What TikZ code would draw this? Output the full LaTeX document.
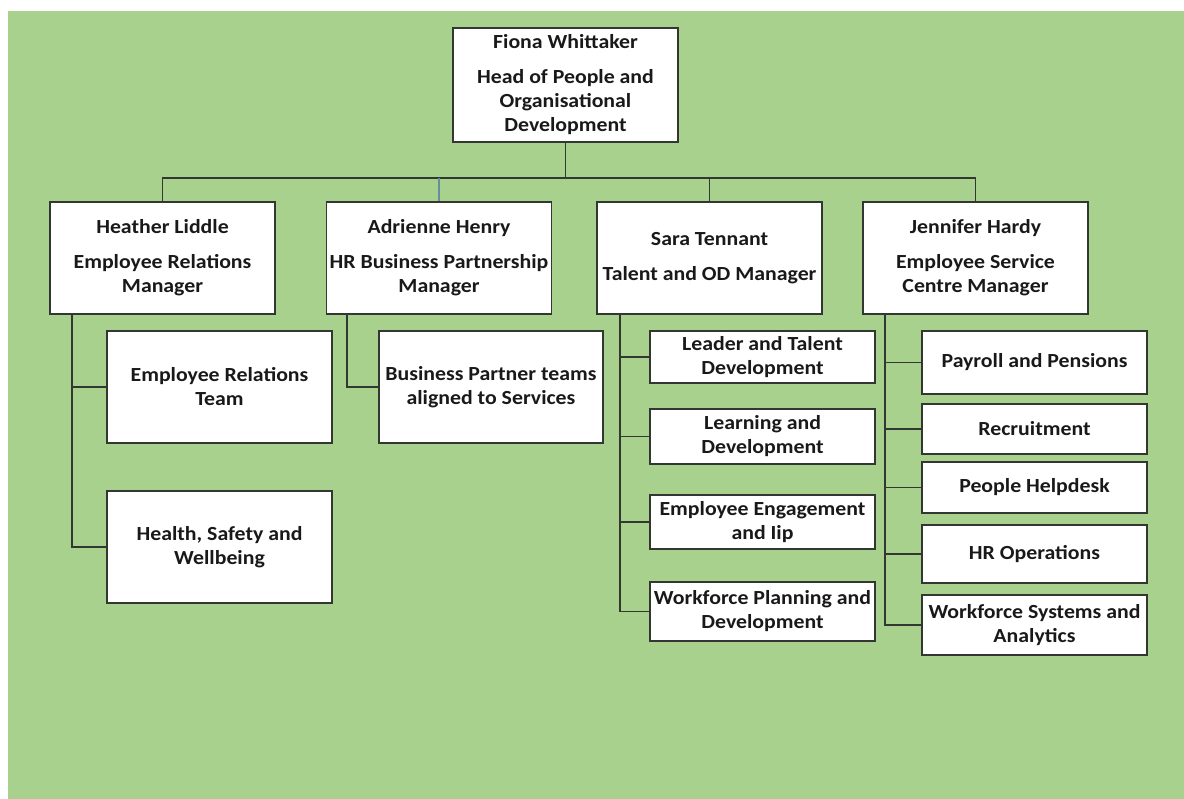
\documentclass[tikz,border=0pt]{standalone}
\usepackage{fontspec}
\setmainfont{Carlito}[FakeStretch=1.09]
\usetikzlibrary{calc}
\definecolor{bg}{RGB}{169,209,142}
\definecolor{ln}{RGB}{50,55,50}
\definecolor{blueln}{RGB}{105,140,160}
\begin{document}
\begin{tikzpicture}[x=1pt,y=-1pt,
  box/.style={draw=ln, line width=1.8pt, fill=white, inner sep=0pt, align=center,
    text=black!90, font=\fontsize{20}{24}\selectfont\bfseries},
  mgr/.style={box, minimum width=225pt, minimum height=112pt},
  conn/.style={draw=ln, line width=1.8pt}]
\useasboundingbox (0,0) rectangle (1184,799);
\fill[bg] (8,11) rectangle (1184,799);

% top
\node[box, minimum width=225pt, minimum height=114pt] (top) at (565.5,85)
  {Fiona Whittaker\\[11pt]Head of People and\\Organisational\\Development};

% managers
\node[mgr] (hl) at (162.5,258) {Heather Liddle\\[11pt]Employee Relations\\Manager};
\node[mgr] (ah) at (439,258) {Adrienne Henry\\[11pt]HR Business Partnership\\Manager};
\node[mgr] (st) at (709.5,258) {Sara Tennant\\[11pt]Talent and OD Manager};
\node[mgr] (jh) at (975.5,258) {Jennifer Hardy\\[11pt]Employee Service\\Centre Manager};

% Heather's teams
\node[box, minimum width=225pt, minimum height=112pt] (ert) at (219.5,387) {Employee Relations\\Team};
\node[box, minimum width=225pt, minimum height=112pt] (hsw) at (219.5,547) {Health, Safety and\\Wellbeing};

% Adrienne's teams
\node[box, minimum width=224pt, minimum height=112pt] (bpt) at (491,387) {Business Partner teams\\aligned to Services};

% Sara's teams
\node[box, minimum width=225pt, minimum height=52pt] (ltd) at (762.5,357) {Leader and Talent\\Development};
\node[box, minimum width=225pt, minimum height=55pt] (ld) at (762.5,436.5) {Learning and\\Development};
\node[box, minimum width=225pt, minimum height=54pt] (ee) at (762.5,522) {Employee Engagement\\and Iip};
\node[box, minimum width=225pt, minimum height=59pt] (wpd) at (762.5,611.5) {Workforce Planning and\\Development};

% Jennifer's teams
\node[box, minimum width=225pt, minimum height=63pt] (pp) at (1034.5,362.5) {Payroll and Pensions};
\node[box, minimum width=225pt, minimum height=50pt] (rec) at (1034.5,429) {Recruitment};
\node[box, minimum width=225pt, minimum height=51pt] (ph) at (1034.5,487.5) {People Helpdesk};
\node[box, minimum width=225pt, minimum height=58pt] (hro) at (1034.5,554) {HR Operations};
\node[box, minimum width=225pt, minimum height=60pt] (wsa) at (1034.5,625) {Workforce Systems and\\Analytics};

% bus
\coordinate (bus) at (0,178);
\draw[conn] (top.south) -- (top.south |- bus);
\draw[conn] (hl.north) -- (hl.north |- bus) -- (jh.north |- bus) -- (jh.north);
\draw[conn] (st.north) -- (st.north |- bus);
\draw[draw=blueln, line width=1.8pt] (ah.north) -- (ah.north |- bus);

% child connectors
\coordinate (hlx) at ($(hl.south west)+(23,0)$);
\coordinate (ahx) at ($(ah.south west)+(21,0)$);
\coordinate (stx) at ($(st.south west)+(24,0)$);
\coordinate (jhx) at ($(jh.south west)+(23,0)$);
\draw[conn] (hlx) |- (ert.west);
\draw[conn] (hlx) |- (hsw.west);
\draw[conn] (ahx) |- (bpt.west);
\draw[conn] (stx) |- (ltd.west);
\draw[conn] (stx) |- (ld.west);
\draw[conn] (stx) |- (ee.west);
\draw[conn] (stx) |- (wpd.west);
\draw[conn] (jhx) |- (pp.west);
\draw[conn] (jhx) |- (rec.west);
\draw[conn] (jhx) |- (ph.west);
\draw[conn] (jhx) |- (hro.west);
\draw[conn] (jhx) |- (wsa.west);
\end{tikzpicture}
\end{document}
